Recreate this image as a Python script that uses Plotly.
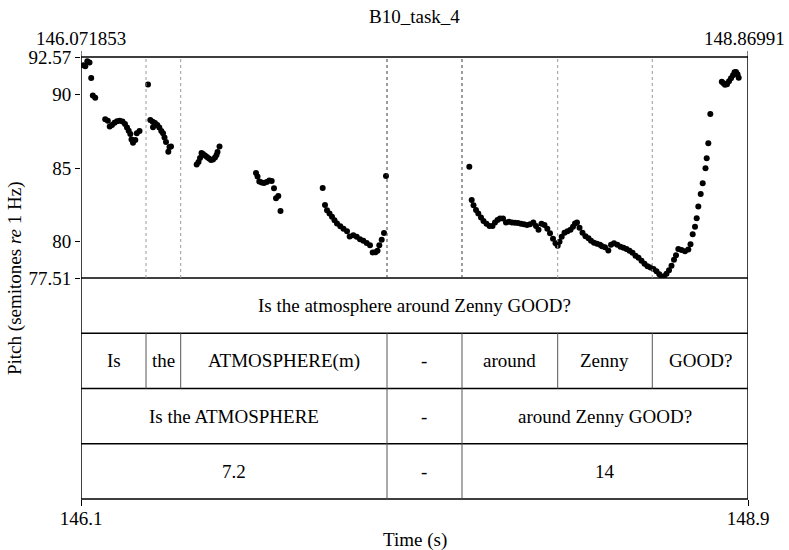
import plotly.graph_objects as go

# ---------------- data ----------------
t_start = 146.071853
t_end = 148.86991
pitch_min = 77.51
pitch_max = 92.57
pitch_ticks = [77.51, 80, 85, 90, 92.57]
pitch_tick_text = ["77.51", "80", "85", "90", "92.57"]
time_tick_text = ["146.1", "148.9"]
time_top_text = ["146.071853", "148.86991"]

time_s = [
    146.0815, 146.0899, 146.0983, 146.1075, 146.1147, 146.1214, 146.1315,
    146.1734, 146.1843, 146.1923, 146.2019, 146.2124, 146.2229, 146.2342, 146.2460,
    146.2564, 146.2648, 146.2720, 146.2787, 146.2837, 146.2900, 146.2997, 146.3059, 146.3173,
    146.3529, 146.3626, 146.3726, 146.3739, 146.3823, 146.3919, 146.4003, 146.4087,
    146.4159, 146.4221, 146.4284, 146.4381, 146.4431, 146.4494,
    146.5572, 146.5648, 146.5711, 146.5774, 146.5836, 146.5920, 146.6004, 146.6088,
    146.6172, 146.6256, 146.6340, 146.6403, 146.6445, 146.6529,
    146.8060, 146.8123, 146.8198, 146.8299, 146.8395, 146.8509, 146.8618, 146.8718,
    146.8815, 146.8899, 146.8995, 146.9088,
    147.0858, 147.0954, 147.1038, 147.1143, 147.1248, 147.1353, 147.1458, 147.1596,
    147.1730, 147.1877, 147.1990, 147.2141, 147.2284, 147.2422, 147.2561, 147.2703,
    147.2842, 147.2955, 147.3073, 147.3157, 147.3232, 147.3333, 147.3429, 147.3513,
    147.7008, 147.7108, 147.7184, 147.7289, 147.7385, 147.7499, 147.7603, 147.7729,
    147.7855, 147.7981, 147.8086, 147.8191, 147.8296, 147.8421, 147.8547, 147.8673,
    147.8799, 147.8925, 147.9051, 147.9177, 147.9302, 147.9428, 147.9554, 147.9693,
    147.9806, 147.9911, 148.0037, 148.0162, 148.0280, 148.0393, 148.0519, 148.0624,
    148.0716, 148.0792, 148.0884, 148.1001, 148.1127, 148.1253, 148.1358, 148.1442,
    148.1526, 148.1631, 148.1756, 148.1882, 148.2008, 148.2113, 148.2239, 148.2365,
    148.2491, 148.2575, 148.2700, 148.2839, 148.2952, 148.3078, 148.3216, 148.3351,
    148.3476, 148.3602, 148.3728, 148.3854, 148.3980, 148.4106, 148.4232, 148.4357,
    148.4483, 148.4609, 148.4735, 148.4861, 148.4978, 148.5079, 148.5175, 148.5280,
    148.5385, 148.5490, 148.5595, 148.5679, 148.5775, 148.5910, 148.6056, 148.6195,
    148.6287, 148.6379, 148.6476, 148.6547, 148.6614, 148.6715, 148.6799, 148.6916,
    148.6967, 148.7034, 148.7118,
    148.7600, 148.7671, 148.7734, 148.7818, 148.7902, 148.7986, 148.8070, 148.8133,
    148.8196, 148.8259, 148.8309,
]

pitch_st = [
    92.01, 91.94, 92.28, 92.19, 91.14, 89.95, 89.80,
    88.32, 88.23, 87.83, 87.93, 88.09, 88.20, 88.22, 88.17,
    88.00, 87.76, 87.54, 87.32, 86.94, 86.73, 86.91, 87.38, 87.52,
    90.69, 88.27, 88.15, 87.79, 88.08, 87.93, 87.77, 87.52,
    87.38, 87.09, 86.77, 86.11, 86.43, 86.47,
    85.24, 85.41, 85.69, 86.03, 85.96, 85.86, 85.75, 85.65,
    85.55, 85.58, 85.72, 85.89, 86.09, 86.47,
    84.67, 84.43, 84.08, 84.01, 83.99, 84.06, 84.16, 84.12,
    83.63, 82.95, 83.10, 82.08,
    83.65, 82.49, 82.12, 81.91, 81.68, 81.44, 81.23, 81.03,
    80.87, 80.69, 80.34, 80.42, 80.32, 80.15, 80.05, 79.89,
    79.74, 79.25, 79.26, 79.37, 79.74, 80.11, 80.57, 84.46,
    85.09, 82.83, 82.46, 82.15, 81.91, 81.64, 81.40, 81.20,
    81.06, 81.06, 81.30, 81.47, 81.57, 81.57, 81.30, 81.34,
    81.30, 81.27, 81.25, 81.20, 81.17, 81.13, 81.18, 81.29,
    81.06, 80.79, 81.20, 81.13, 80.86, 80.56, 80.18, 79.88,
    79.71, 79.98, 80.32, 80.59, 80.69, 80.79, 81.00, 81.23,
    81.29, 80.93, 80.59, 80.35, 80.22, 80.05, 79.91, 79.84,
    79.77, 79.67, 79.60, 79.39, 79.77, 79.88, 79.77, 79.64,
    79.57, 79.48, 79.37, 79.23, 79.03, 78.89, 78.69, 78.48,
    78.31, 78.23, 78.12, 77.97, 77.77, 77.58, 77.63, 77.80,
    78.04, 78.35, 78.75, 79.06, 79.48, 79.41, 79.33, 79.45,
    79.81, 80.49, 81.00, 81.59, 82.39, 83.24, 83.97, 84.99,
    85.67, 86.69, 88.68,
    90.88, 90.78, 90.68, 90.71, 90.92, 91.12, 91.33, 91.53,
    91.55, 91.39, 91.16,
]

title_text = "B10_task_4"
x_title = "Time (s)"
y_title = "Pitch (semitones <i>re</i> 1 Hz)"

tier1_bounds = [t_start, t_end]
tier1_labels = ["Is the atmosphere around Zenny GOOD?"]
tier2_bounds = [t_start, 146.3446, 146.4901, 147.3555, 147.6701, 148.0716, 148.4684, t_end]
tier2_labels = ["Is", "the", "ATMOSPHERE(m)", "-", "around", "Zenny", "GOOD?"]
tier3_bounds = [t_start, 147.3555, 147.6701, t_end]
tier3_labels = ["Is the ATMOSPHERE", "-", "around Zenny GOOD?"]
tier4_bounds = [t_start, 147.3555, 147.6701, t_end]
tier4_labels = ["7.2", "-", "14"]

tiers = [(tier1_bounds, tier1_labels), (tier2_bounds, tier2_labels),
         (tier3_bounds, tier3_labels), (tier4_bounds, tier4_labels)]

# ---------------- figure ----------------
FONT = "Liberation Serif, Times New Roman, serif"
FS = 19
W, H = 789, 550
ML, MR, MT, MB = 81, 41, 57, 51
PH = H - MT - MB

fig = go.Figure()
fig.add_trace(go.Scatter(
    x=time_s, y=pitch_st, mode="markers",
    marker=dict(color="black", size=6, line=dict(width=0)),
    hoverinfo="skip", showlegend=False))

shapes = []
annotations = []

# frame
shapes.append(dict(type="rect", xref="x", yref="paper", x0=t_start, x1=t_end,
                   y0=0, y1=1, line=dict(color="black", width=1.5)))
# tier separators
n_t = len(tiers)
row_h = 0.5 / n_t
for i in range(n_t):
    ytop = 0.5 - i * row_h
    shapes.append(dict(type="line", xref="x", yref="paper", x0=t_start, x1=t_end,
                       y0=ytop, y1=ytop, line=dict(color="black", width=1.5)))

# boundaries in the pitch area: darker where several tiers share them
all_b = {}
for bounds, _ in tiers:
    for b in bounds[1:-1]:
        all_b[b] = all_b.get(b, 0) + 1
for b, cnt in all_b.items():
    col = "#9a9a9a" if cnt == 1 else "#3a3a3a"
    shapes.append(dict(type="line", xref="x", yref="paper", x0=b, x1=b,
                       y0=0.5, y1=1, line=dict(color=col, width=1, dash="dot")))

for i, (bounds, labels) in enumerate(tiers):
    ytop = 0.5 - i * row_h
    ybot = ytop - row_h
    for b in bounds[1:-1]:
        shapes.append(dict(type="line", xref="x", yref="paper", x0=b, x1=b,
                           y0=ybot, y1=ytop, line=dict(color="#555555", width=1)))
    for k, lab in enumerate(labels):
        annotations.append(dict(x=(bounds[k] + bounds[k + 1]) / 2, y=(ytop + ybot) / 2,
                                xref="x", yref="paper", text=lab, showarrow=False,
                                xanchor="center", yanchor="middle",
                                font=dict(family=FONT, size=FS, color="black")))

# top corner ticks
for xv in (t_start, t_end):
    shapes.append(dict(type="line", xref="x", yref="paper", x0=xv, x1=xv,
                       y0=1, y1=1 + 6 / PH, line=dict(color="black", width=1)))

# top labels
annotations.append(dict(x=t_start, y=1, xref="x", yref="paper", text=time_top_text[0],
                        showarrow=False, xanchor="center", yanchor="bottom", yshift=6,
                        font=dict(family=FONT, size=FS, color="black")))
annotations.append(dict(x=t_end, y=1, xref="x", yref="paper", text=time_top_text[1],
                        showarrow=False, xanchor="right", yanchor="bottom", yshift=6, xshift=39,
                        font=dict(family=FONT, size=FS, color="black")))
# title
annotations.append(dict(x=0.5, y=1, xref="paper", yref="paper", text=title_text,
                        showarrow=False, xanchor="center", yanchor="bottom", yshift=28,
                        font=dict(family=FONT, size=FS, color="black")))
# axis titles
annotations.append(dict(x=0.5, y=0, xref="paper", yref="paper", text=x_title,
                        showarrow=False, xanchor="center", yanchor="top", yshift=-28,
                        font=dict(family=FONT, size=FS, color="black")))
annotations.append(dict(x=0, y=0.5, xref="paper", yref="paper", text=y_title,
                        showarrow=False, xanchor="center", yanchor="middle", xshift=-66,
                        textangle=-90,
                        font=dict(family=FONT, size=FS, color="black")))

fig.update_layout(
    width=W, height=H,
    margin=dict(l=ML, r=MR, t=MT, b=MB),
    paper_bgcolor="white", plot_bgcolor="white",
    showlegend=False,
    xaxis=dict(range=[t_start, t_end], anchor="free", position=0,
               tickmode="array", tickvals=[t_start, t_end], ticktext=time_tick_text,
               ticks="outside", ticklen=6, tickwidth=1, tickcolor="black",
               ticklabelstandoff=-4,
               showgrid=False, zeroline=False, showline=False,
               tickfont=dict(family=FONT, size=FS, color="black")),
    yaxis=dict(domain=[0.5, 1], range=[pitch_min, pitch_max],
               tickmode="array", tickvals=pitch_ticks, ticktext=pitch_tick_text,
               ticks="outside", ticklen=5, tickwidth=1, tickcolor="black",
               showgrid=False, zeroline=False, showline=False,
               tickfont=dict(family=FONT, size=FS, color="black")),
    shapes=shapes,
    annotations=annotations,
)

fig.write_html("out.html")
